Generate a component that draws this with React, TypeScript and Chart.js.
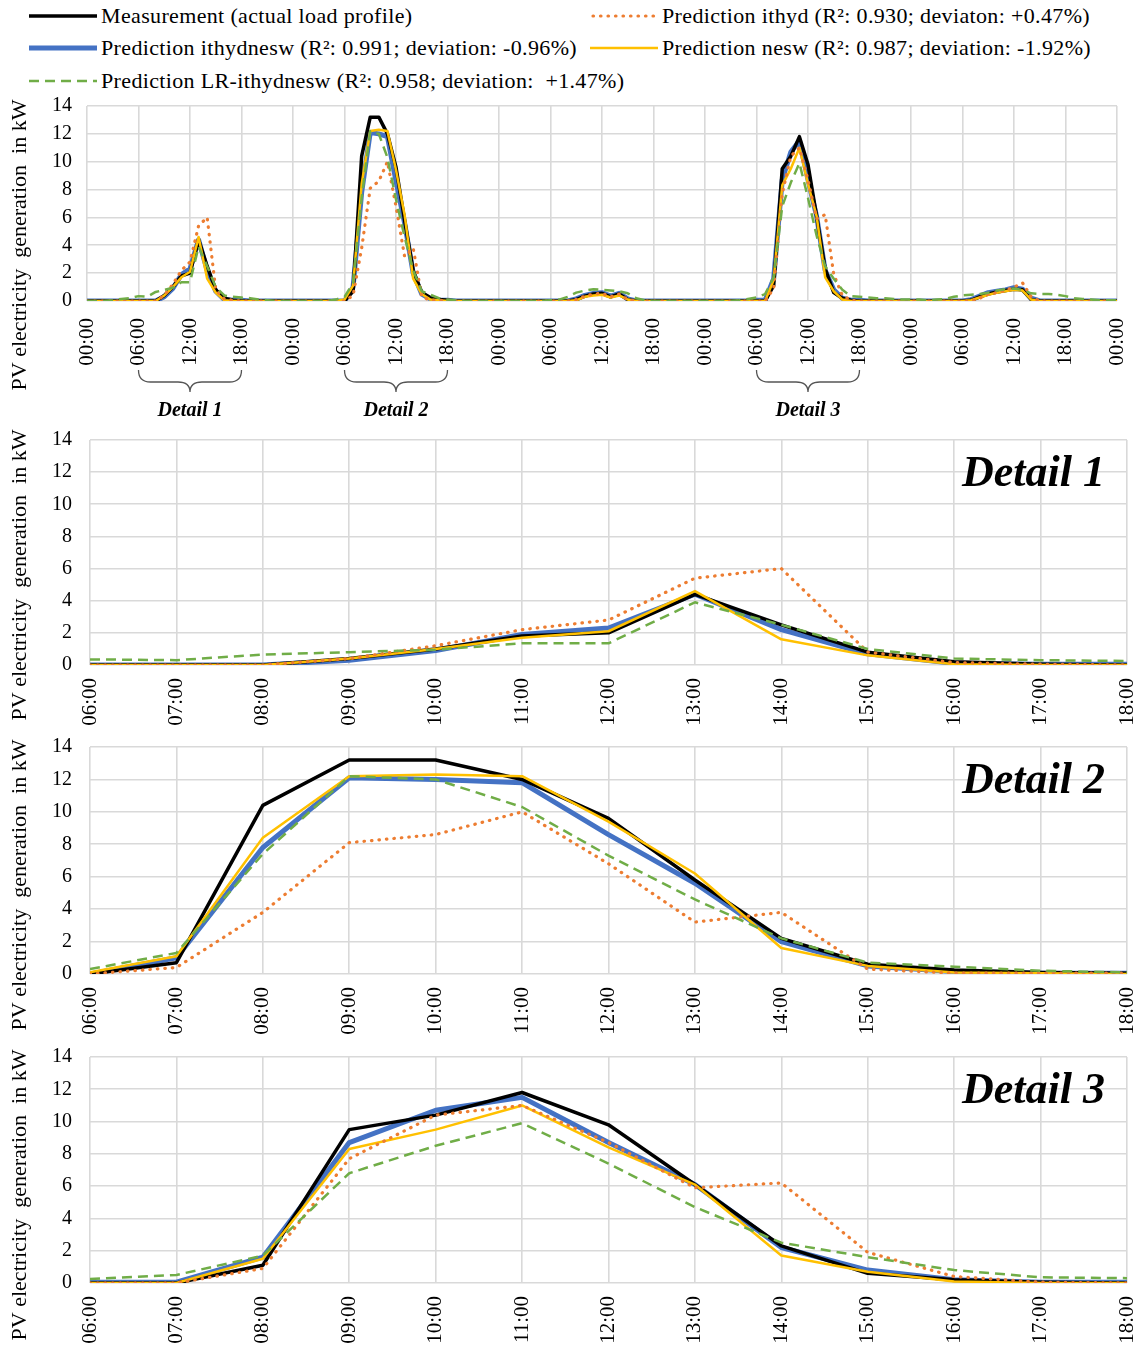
import React, { useEffect, useRef } from "react";
import { Chart, registerables } from "chart.js";

Chart.register(...registerables);

const FONT = "'Liberation Serif', 'Times New Roman', serif";
const PAGE_W = 1142;

// ---- data (hourly, 5 days, index 0 = day 1 00:00 ... 120 = day 6 00:00) ----
const measurement = [
  0, 0, 0, 0, 0, 0, 0, 0, 0, 0.4, 1.0, 1.8, 2.0, 4.4, 2.5, 0.8, 0.2, 0.05, 0, 0, 0, 0, 0, 0,
  0, 0, 0, 0, 0, 0, 0, 0.7, 10.4, 13.2, 13.2, 12.0, 9.6, 5.8, 2.2, 0.6, 0.25, 0.1, 0.05, 0, 0, 0, 0, 0,
  0, 0, 0, 0, 0, 0, 0, 0, 0, 0.1, 0.35, 0.5, 0.55, 0.3, 0.5, 0.1, 0, 0, 0, 0, 0, 0, 0, 0,
  0, 0, 0, 0, 0, 0, 0, 0, 1.1, 9.5, 10.4, 11.8, 9.8, 6.1, 2.3, 0.6, 0.2, 0.05, 0, 0, 0, 0, 0, 0,
  0, 0, 0, 0, 0, 0, 0, 0.05, 0.3, 0.5, 0.65, 0.75, 0.85, 0.8, 0.1, 0, 0, 0, 0, 0, 0, 0, 0, 0,
  0,
];

const predIthydnesw = [
  0, 0, 0, 0, 0, 0, 0, 0, 0, 0.3, 0.9, 1.9, 2.3, 4.4, 2.2, 0.7, 0.1, 0.05, 0.05, 0, 0, 0, 0, 0,
  0, 0, 0, 0, 0, 0, 0, 1.0, 7.8, 12.1, 12.0, 11.8, 8.6, 5.6, 2.0, 0.5, 0.15, 0.05, 0.05, 0, 0, 0, 0, 0,
  0, 0, 0, 0, 0, 0, 0, 0, 0, 0.15, 0.4, 0.55, 0.6, 0.35, 0.55, 0.15, 0, 0, 0, 0, 0, 0, 0, 0,
  0, 0, 0, 0, 0, 0, 0.05, 0.05, 1.6, 8.7, 10.7, 11.5, 8.7, 6.1, 2.2, 0.8, 0.2, 0.05, 0.05, 0, 0, 0, 0, 0,
  0, 0, 0, 0, 0, 0, 0, 0.1, 0.35, 0.6, 0.7, 0.8, 0.95, 0.85, 0.2, 0, 0, 0, 0, 0, 0, 0, 0, 0,
  0,
];

const predNesw = [
  0, 0, 0, 0, 0, 0, 0, 0, 0, 0.4, 1.0, 1.7, 2.1, 4.6, 1.6, 0.6, 0.05, 0, 0, 0, 0, 0, 0, 0,
  0, 0, 0, 0, 0, 0, 0.1, 1.1, 8.4, 12.2, 12.3, 12.2, 9.4, 6.2, 1.6, 0.5, 0.1, 0.05, 0, 0, 0, 0, 0, 0,
  0, 0, 0, 0, 0, 0, 0, 0, 0, 0.05, 0.3, 0.4, 0.45, 0.25, 0.4, 0.1, 0, 0, 0, 0, 0, 0, 0, 0,
  0, 0, 0, 0, 0, 0, 0, 0, 1.5, 8.3, 9.5, 11.0, 8.4, 6.1, 1.7, 0.7, 0.1, 0, 0, 0, 0, 0, 0, 0,
  0, 0, 0, 0, 0, 0, 0, 0.05, 0.25, 0.45, 0.6, 0.7, 0.8, 0.75, 0.1, 0, 0, 0, 0, 0, 0, 0, 0, 0,
  0,
];

const predIthyd = [
  0, 0, 0, 0, 0, 0, 0, 0, 0, 0.4, 1.2, 2.2, 2.8, 5.4, 6.0, 0.8, 0.15, 0.05, 0, 0, 0, 0, 0, 0,
  0, 0, 0, 0, 0, 0, 0, 0.4, 3.8, 8.1, 8.6, 10.0, 6.8, 3.2, 3.8, 0.3, 0.05, 0.05, 0.05, 0, 0, 0, 0, 0,
  0, 0, 0, 0, 0, 0, 0, 0, 0, 0.1, 0.35, 0.5, 0.55, 0.3, 0.5, 0.1, 0, 0, 0, 0, 0, 0, 0, 0,
  0, 0, 0, 0, 0, 0, 0, 0, 0.9, 7.7, 10.4, 11.0, 8.7, 5.9, 6.2, 1.9, 0.4, 0.05, 0, 0, 0, 0, 0, 0,
  0, 0, 0, 0, 0, 0, 0, 0, 0.2, 0.5, 0.6, 0.75, 1.0, 1.3, 0.3, 0, 0, 0, 0, 0, 0, 0, 0, 0,
  0,
];

const predLR = [
  0, 0, 0, 0.05, 0.15, 0.2, 0.35, 0.3, 0.65, 0.8, 0.95, 1.35, 1.35, 3.9, 2.5, 1.0, 0.4, 0.3, 0.25, 0.2, 0.1, 0.05, 0, 0,
  0, 0, 0, 0, 0, 0.1, 0.3, 1.3, 7.4, 12.2, 12.0, 10.3, 7.3, 4.6, 2.2, 0.7, 0.45, 0.2, 0.1, 0.05, 0, 0, 0, 0,
  0, 0, 0, 0, 0, 0, 0.05, 0.1, 0.3, 0.6, 0.75, 0.85, 0.8, 0.75, 0.7, 0.55, 0.2, 0.05, 0, 0, 0, 0, 0, 0,
  0, 0, 0, 0, 0.05, 0.15, 0.25, 0.5, 1.7, 6.8, 8.5, 9.9, 7.4, 4.7, 2.5, 1.6, 0.8, 0.35, 0.3, 0.25, 0.2, 0.2, 0.15, 0.1,
  0.1, 0.1, 0.05, 0.1, 0.15, 0.3, 0.4, 0.45, 0.5, 0.6, 0.75, 0.85, 0.9, 0.8, 0.55, 0.5, 0.5, 0.45, 0.35, 0.2, 0.15, 0.1, 0.05, 0.05,
  0.05,
];

const overviewTickLabels = [
  "00:00", "06:00", "12:00", "18:00",
  "00:00", "06:00", "12:00", "18:00",
  "00:00", "06:00", "12:00", "18:00",
  "00:00", "06:00", "12:00", "18:00",
  "00:00", "06:00", "12:00", "18:00",
  "00:00",
];

const detailTickLabels = [
  "06:00", "07:00", "08:00", "09:00", "10:00", "11:00", "12:00",
  "13:00", "14:00", "15:00", "16:00", "17:00", "18:00",
];

const detailNames = ["Detail 1", "Detail 2", "Detail 3"];
const detailDayOffsets = [0, 24, 72];

const yAxisTitle = "PV electricity  generation  in kW";

const legendLabels = {
  measurement: "Measurement (actual load profile)",
  ithyd: "Prediction ithyd (R²: 0.930; deviaton: +0.47%)",
  ithydnesw: "Prediction ithydnesw (R²: 0.991; deviation: -0.96%)",
  nesw: "Prediction nesw (R²: 0.987; deviation: -1.92%)",
  lr: "Prediction LR-ithydnesw (R²: 0.958; deviation:  +1.47%)",
};

// ---- styles ----
type SeriesStyle = {
  key: string;
  values: number[];
  color: string;
  width: number;
  dash: number[];
  cap: "butt" | "round";
};

// first entry drawn on top
const SERIES: SeriesStyle[] = [
  { key: "lr", values: predLR, color: "#70AD47", width: 2.5, dash: [10, 6], cap: "butt" },
  { key: "ithyd", values: predIthyd, color: "#ED7D31", width: 3.2, dash: [0.5, 7], cap: "round" },
  { key: "nesw", values: predNesw, color: "#FFC000", width: 2.5, dash: [], cap: "butt" },
  { key: "measurement", values: measurement, color: "#000000", width: 3.5, dash: [], cap: "butt" },
  { key: "ithydnesw", values: predIthydnesw, color: "#4472C4", width: 5, dash: [], cap: "butt" },
];

const GRID = "#d9d9d9";

type PanelProps = {
  top: number;
  height: number;
  padTop: number;
  xHeight: number;
  plotLeft: number;
  plotRight: number;
  xPad: number;
  mode: "overview" | "detail";
  detailIndex?: number;
};

function Panel(p: PanelProps) {
  const ref = useRef<HTMLCanvasElement | null>(null);

  useEffect(() => {
    const canvas = ref.current;
    if (!canvas) return;
    const isOverview = p.mode === "overview";
    const off = isOverview ? 0 : detailDayOffsets[p.detailIndex || 0];

    const pick = (arr: number[]) =>
      isOverview
        ? arr.map((y, i) => ({ x: i, y }))
        : arr.slice(off + 6, off + 19).map((y, i) => ({ x: 6 + i, y }));

    const tickLabels = isOverview ? overviewTickLabels : detailTickLabels;

    const titlePlugin = {
      id: "yTitle",
      afterDraw(chart: any) {
        const ctx = chart.ctx;
        ctx.save();
        ctx.translate(20, 150);
        ctx.rotate(-Math.PI / 2);
        ctx.font = `22px ${FONT}`;
        ctx.fillStyle = "#000";
        ctx.textAlign = "center";
        ctx.textBaseline = "middle";
        ctx.fillText(yAxisTitle, 0, 0);
        ctx.restore();
      },
    };

    const extraPlugin = {
      id: "extras",
      afterDraw(chart: any) {
        const ctx = chart.ctx;
        const xs = chart.scales.x;
        ctx.save();
        if (isOverview) {
          ctx.strokeStyle = "#555";
          ctx.lineWidth = 1.3;
          ctx.fillStyle = "#000";
          ctx.font = `italic bold 20px ${FONT}`;
          ctx.textAlign = "center";
          ctx.textBaseline = "alphabetic";
          detailDayOffsets.forEach((d, k) => {
            const x1 = xs.getPixelForValue(d + 6);
            const x2 = xs.getPixelForValue(d + 18);
            const xm = (x1 + x2) / 2;
            const yT = 275;
            const yB = 287;
            const yTip = 297;
            const r = 12;
            ctx.beginPath();
            ctx.moveTo(x1, yT);
            ctx.quadraticCurveTo(x1, yB, x1 + r, yB);
            ctx.lineTo(xm - r, yB);
            ctx.quadraticCurveTo(xm, yB, xm, yTip);
            ctx.quadraticCurveTo(xm, yB, xm + r, yB);
            ctx.lineTo(x2 - r, yB);
            ctx.quadraticCurveTo(x2, yB, x2, yT);
            ctx.stroke();
            ctx.fillText(detailNames[k], xm, 321);
          });
        } else {
          const area = chart.chartArea;
          ctx.fillStyle = "#000";
          ctx.font = `italic bold 44px ${FONT}`;
          ctx.textAlign = "right";
          ctx.textBaseline = "alphabetic";
          ctx.fillText(detailNames[p.detailIndex || 0], 1105, area.top + 46);
        }
        ctx.restore();
      },
    };

    const chart = new Chart(canvas, {
      type: "line",
      data: {
        datasets: SERIES.map((s) => ({
          label: s.key,
          data: pick(s.values),
          borderColor: s.color,
          backgroundColor: s.color,
          borderWidth: s.width,
          borderDash: s.dash,
          borderCapStyle: s.cap,
          borderJoinStyle: "round",
          pointRadius: 0,
          tension: 0,
          fill: false,
        })),
      },
      options: {
        responsive: false,
        animation: false,
        devicePixelRatio: 1,
        layout: {
          padding: { top: p.padTop, right: PAGE_W - p.plotRight, left: 0, bottom: 0 },
        },
        plugins: {
          legend: { display: false },
          tooltip: { enabled: false },
        },
        scales: {
          x: {
            type: "linear",
            min: isOverview ? 0 : 6,
            max: isOverview ? 120 : 18,
            grid: { color: GRID, lineWidth: 1.6, drawTicks: false },
            border: { display: false },
            ticks: {
              stepSize: isOverview ? 6 : 1,
              autoSkip: false,
              maxRotation: 90,
              minRotation: 90,
              padding: p.xPad,
              color: "#000",
              font: { family: FONT, size: 21 },
              callback: (_v: any, i: number) => tickLabels[i],
            },
            afterFit: (s: any) => {
              s.height = p.xHeight;
              s.paddingLeft = 0;
              s.paddingRight = 0;
              s.paddingTop = 0;
              s.paddingBottom = 0;
            },
          },
          y: {
            min: 0,
            max: 14,
            grid: { color: GRID, lineWidth: 1.6, drawTicks: false },
            border: { display: false },
            ticks: {
              stepSize: 2,
              autoSkip: false,
              padding: p.plotLeft - 72,
              color: "#000",
              font: { family: FONT, size: 20 },
            },
            afterFit: (s: any) => {
              s.width = p.plotLeft;
              s.paddingLeft = 0;
              s.paddingRight = 0;
              s.paddingTop = 0;
              s.paddingBottom = 0;
            },
          },
        },
      } as any,
      plugins: [titlePlugin, extraPlugin],
    });
    return () => chart.destroy();
  }, []);

  return (
    <canvas
      ref={ref}
      width={PAGE_W}
      height={p.height}
      style={{ position: "absolute", left: 0, top: p.top, width: PAGE_W, height: p.height }}
    />
  );
}

function Sample({ s }: { s: SeriesStyle }) {
  return (
    <svg width={70} height={12} style={{ position: "absolute", left: 0, top: 6 }}>
      <line
        x1={s.cap === "round" ? 3 : 0}
        y1={6}
        x2={s.cap === "round" ? 66 : 68}
        y2={6}
        stroke={s.color}
        strokeWidth={s.width}
        strokeDasharray={s.dash.length ? s.dash.join(" ") : undefined}
        strokeLinecap={s.cap}
      />
    </svg>
  );
}

function LegendItem({ s, left, cy, text }: { s: SeriesStyle; left: number; cy: number; text: string }) {
  return (
    <div style={{ position: "absolute", left, top: cy - 12, height: 24 }}>
      <Sample s={s} />
      <div
        style={{
          position: "absolute",
          left: 72,
          top: 0,
          whiteSpace: "pre",
          fontFamily: FONT,
          fontSize: 22,
          letterSpacing: "0.35px",
          lineHeight: "24px",
          color: "#000",
        }}
      >
        {text}
      </div>
    </div>
  );
}

export default function App() {
  const byKey = (k: string) => SERIES.find((s) => s.key === k)!;
  return (
    <div
      style={{
        position: "absolute",
        left: 0,
        top: 0,
        width: PAGE_W,
        height: 1350,
        background: "#fff",
        overflow: "hidden",
      }}
    >
      <LegendItem s={byKey("measurement")} left={29} cy={16} text={legendLabels.measurement} />
      <LegendItem s={byKey("ithyd")} left={590} cy={16} text={legendLabels.ithyd} />
      <LegendItem s={byKey("ithydnesw")} left={29} cy={48} text={legendLabels.ithydnesw} />
      <LegendItem s={byKey("nesw")} left={590} cy={48} text={legendLabels.nesw} />
      <LegendItem s={byKey("lr")} left={29} cy={81} text={legendLabels.lr} />

      <Panel mode="overview" top={95} height={335} padTop={11} xHeight={129} xPad={17} plotLeft={87} plotRight={1117} />
      <Panel mode="detail" detailIndex={0} top={425} height={310} padTop={15} xHeight={70} xPad={13} plotLeft={90} plotRight={1127} />
      <Panel mode="detail" detailIndex={1} top={735} height={310} padTop={12} xHeight={71} xPad={13} plotLeft={90} plotRight={1127} />
      <Panel mode="detail" detailIndex={2} top={1045} height={305} padTop={12} xHeight={67} xPad={13} plotLeft={90} plotRight={1127} />
    </div>
  );
}
